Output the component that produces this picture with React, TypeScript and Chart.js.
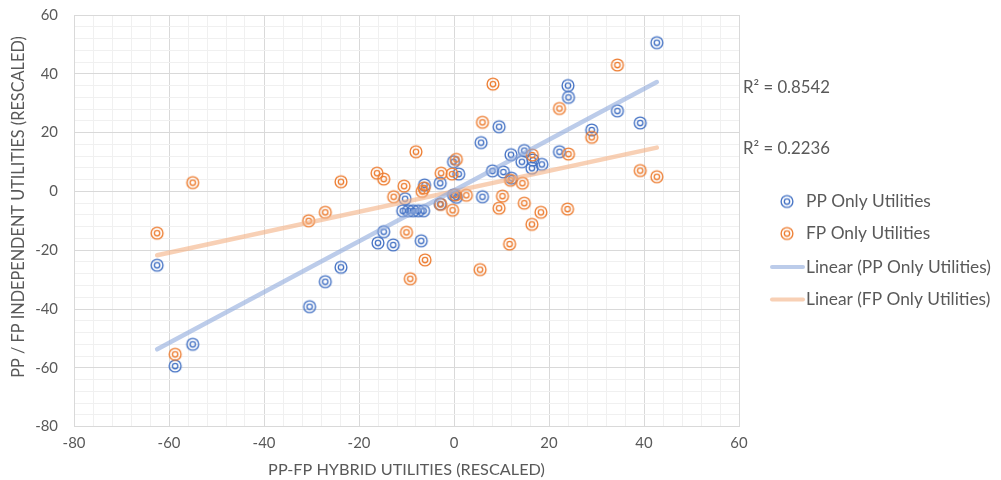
import React, { useEffect, useRef } from 'react';
import { Chart, registerables } from 'chart.js';
Chart.register(...registerables);

// ---- data ----
const ppX = [-62.5, -58.7, -55.0, -30.4, -27.1, -23.8, -16.0, -14.8, -12.8, -6.9, -10.3, -10.8, -9.6, -8.6, -7.5, -6.4, -6.2, -2.9, -2.9, -0.1, 1.0, -0.1, 0.5, 5.7, 9.5, 6.0, 8.1, 10.4, 12.1, 12.0, 14.8, 14.3, 16.4, 18.5, 16.6, 22.2, 24.0, 24.1, 29.0, 34.4, 39.2, 42.7];
const ppY = [-25.1, -59.4, -52.0, -39.2, -30.7, -25.8, -17.5, -13.7, -18.2, -16.8, -2.5, -6.6, -6.6, -6.6, -6.6, -6.6, 2.2, 2.8, -4.3, 10.1, 5.9, -1.2, -2.0, 16.6, 22.0, -1.8, 7.0, 6.6, 4.5, 12.5, 13.9, 10.1, 7.9, 9.2, 10.7, 13.5, 36.0, 32.0, 20.9, 27.4, 23.3, 50.6];
const fpX = [-62.5, -58.7, -55.0, -30.6, -27.1, -23.8, -16.2, -14.8, -12.7, -10.5, -10.0, -9.2, -8.0, -6.7, -6.3, -6.1, -2.7, -2.8, -0.4, 0.5, -0.3, 0.3, 2.6, 5.5, 6.0, 8.2, 10.2, 9.5, 11.9, 11.7, 14.4, 14.8, 16.5, 16.4, 18.3, 22.2, 24.1, 23.9, 29.0, 34.4, 39.2, 42.7];
const fpY = [-14.2, -55.4, 3.0, -10.0, -7.1, 3.3, 6.2, 4.2, -1.8, 1.8, -13.9, -29.7, 13.5, 0.0, 1.2, -23.3, 6.2, -4.4, 5.9, 10.9, -6.4, -1.2, -1.3, -26.6, 23.5, 36.5, -1.6, -5.7, 3.8, -17.9, 2.8, -4.0, 12.4, -11.2, -7.1, 28.2, 12.7, -6.0, 18.4, 43.0, 7.1, 5.0];

const seriesNames = ['PP Only Utilities', 'FP Only Utilities'];
const trendNames = ['Linear (PP Only Utilities)', 'Linear (FP Only Utilities)'];
const r2Labels = ['R² = 0.8542', 'R² = 0.2236'];
const xTitle = 'PP-FP HYBRID UTILITIES (RESCALED)';
const yTitle = 'PP / FP INDEPENDENT UTILITIES (RESCALED)';
const axisMin = -80;
const axisMax = 60;
const minorStep = 4;
const majorStep = 20;

// ---- styles ----
const FAMILY = 'Lato, "Open Sans", sans-serif';
const TEXT = '#595959';
const BLUE = '#4472C4';
const ORANGE = '#ED7D31';
const BLUE_TREND = 'rgba(143,170,220,0.6)';
const ORANGE_TREND = 'rgba(244,177,131,0.6)';

function fitSize(text: string, target: number): number {
  const c = document.createElement('canvas').getContext('2d')!;
  c.font = `100px ${FAMILY}`;
  return (100 * target) / c.measureText(text).width;
}

function makeMarker(color: string): HTMLCanvasElement {
  const c = document.createElement('canvas');
  c.width = 16;
  c.height = 16;
  const g = c.getContext('2d')!;
  g.strokeStyle = color;
  g.lineWidth = 1.35;
  g.beginPath();
  g.arc(8, 8, 5.9, 0, Math.PI * 2);
  g.stroke();
  g.beginPath();
  g.arc(8, 8, 2.7, 0, Math.PI * 2);
  g.stroke();
  return c;
}

function trend(xs: number[], ys: number[]) {
  const n = xs.length;
  const mx = xs.reduce((a, b) => a + b, 0) / n;
  const my = ys.reduce((a, b) => a + b, 0) / n;
  let sxy = 0;
  let sxx = 0;
  for (let i = 0; i < n; i++) {
    sxy += (xs[i] - mx) * (ys[i] - my);
    sxx += (xs[i] - mx) * (xs[i] - mx);
  }
  const b = sxy / sxx;
  const a = my - b * mx;
  const lo = Math.min(...xs);
  const hi = Math.max(...xs);
  return [
    { x: lo, y: a + b * lo },
    { x: hi, y: a + b * hi },
  ];
}

export default function App() {
  const ref = useRef<HTMLCanvasElement>(null);

  useEffect(() => {
    if (!ref.current) return;
    const legendSize = fitSize(trendNames[0], 185);
    const r2Size = fitSize(r2Labels[0], 87);
    const xTitleSize = fitSize(xTitle, 277);
    const yTitleSize = fitSize(yTitle, 342);
    const tickSize = legendSize * 0.86;

    const mBlue = makeMarker(BLUE);
    const mOrange = makeMarker(ORANGE);

    const overlay = {
      id: 'overlay',
      afterDraw(chart: any) {
        const ctx = chart.ctx as CanvasRenderingContext2D;
        const ca = chart.chartArea;
        ctx.save();
        ctx.fillStyle = TEXT;
        ctx.textBaseline = 'middle';
        // R² labels
        ctx.textAlign = 'left';
        ctx.font = `${r2Size}px ${FAMILY}`;
        ctx.fillText(r2Labels[0], ca.right + 4, 88);
        ctx.fillText(r2Labels[1], ca.right + 4, 149);
        // legend
        ctx.font = `${legendSize}px ${FAMILY}`;
        ctx.drawImage(mBlue, 787 - 8, 201.5 - 8);
        ctx.fillText(seriesNames[0], 806, 201.5);
        ctx.drawImage(mOrange, 787 - 8, 233.5 - 8);
        ctx.fillText(seriesNames[1], 806, 233.5);
        ctx.lineCap = 'round';
        ctx.lineWidth = 4;
        ctx.strokeStyle = BLUE_TREND;
        ctx.beginPath();
        ctx.moveTo(772, 267);
        ctx.lineTo(803, 267);
        ctx.stroke();
        ctx.fillText(trendNames[0], 806, 267);
        ctx.strokeStyle = ORANGE_TREND;
        ctx.beginPath();
        ctx.moveTo(772, 299.5);
        ctx.lineTo(803, 299.5);
        ctx.stroke();
        ctx.fillText(trendNames[1], 806, 299.5);
        // axis titles
        ctx.textAlign = 'center';
        ctx.font = `${xTitleSize}px ${FAMILY}`;
        ctx.fillText(xTitle, (ca.left + ca.right) / 2, 470);
        ctx.font = `${yTitleSize}px ${FAMILY}`;
        ctx.translate(19, 207);
        ctx.rotate(-Math.PI / 2);
        ctx.fillText(yTitle, 0, 0);
        ctx.restore();
      },
    };

    const gridColor = (c: any) =>
      c.tick && Math.abs(c.tick.value % majorStep) < 1e-9 ? '#d9d9d9' : '#f0f0f0';
    const tickCb = (v: any) => (Math.abs(Number(v) % majorStep) < 1e-9 ? String(v) : '');

    const chart = new Chart(ref.current, {
      type: 'scatter',
      data: {
        datasets: [
          {
            label: trendNames[0],
            data: trend(ppX, ppY),
            showLine: true,
            borderColor: BLUE_TREND,
            borderWidth: 4.5,
            borderCapStyle: 'round',
            pointRadius: 0,
            order: 0,
          } as any,
          {
            label: trendNames[1],
            data: trend(fpX, fpY),
            showLine: true,
            borderColor: ORANGE_TREND,
            borderWidth: 4.5,
            borderCapStyle: 'round',
            pointRadius: 0,
            order: 0,
          } as any,
          {
            label: seriesNames[1],
            data: fpX.map((x, i) => ({ x, y: fpY[i] })),
            pointStyle: mOrange,
            order: 1,
          } as any,
          {
            label: seriesNames[0],
            data: ppX.map((x, i) => ({ x, y: ppY[i] })),
            pointStyle: mBlue,
            order: 2,
          } as any,
        ],
      },
      options: {
        animation: false,
        responsive: false,
        layout: { padding: { top: 15, right: 262, left: 0, bottom: 0 } },
        plugins: {
          legend: { display: false },
          tooltip: { enabled: false },
        },
        scales: {
          x: {
            type: 'linear',
            min: axisMin,
            max: axisMax,
            afterFit: (s: any) => {
              s.height = 53.4;
              s.paddingLeft = 0;
              s.paddingRight = 0;
            },
            ticks: {
              stepSize: minorStep,
              autoSkip: false,
              maxRotation: 0,
              callback: tickCb,
              color: TEXT,
              font: { family: FAMILY, size: tickSize },
              padding: 8,
            },
            grid: { color: gridColor, drawTicks: false, lineWidth: 1 },
            border: { color: '#d9d9d9' },
          },
          y: {
            type: 'linear',
            min: axisMin,
            max: axisMax,
            afterFit: (s: any) => {
              s.width = 74;
              s.paddingTop = 0;
              s.paddingBottom = 0;
            },
            ticks: {
              stepSize: minorStep,
              autoSkip: false,
              callback: tickCb,
              color: TEXT,
              font: { family: FAMILY, size: tickSize },
              padding: 16,
            },
            grid: { color: gridColor, drawTicks: false, lineWidth: 1 },
            border: { color: '#d9d9d9' },
          },
        },
      } as any,
      plugins: [overlay],
    });
    return () => chart.destroy();
  }, []);

  return (
    <div style={{ position: 'fixed', left: 0, top: 0, width: 1001, height: 480, background: '#fff' }}>
      <canvas ref={ref} width={1001} height={480} style={{ display: 'block' }} />
    </div>
  );
}
